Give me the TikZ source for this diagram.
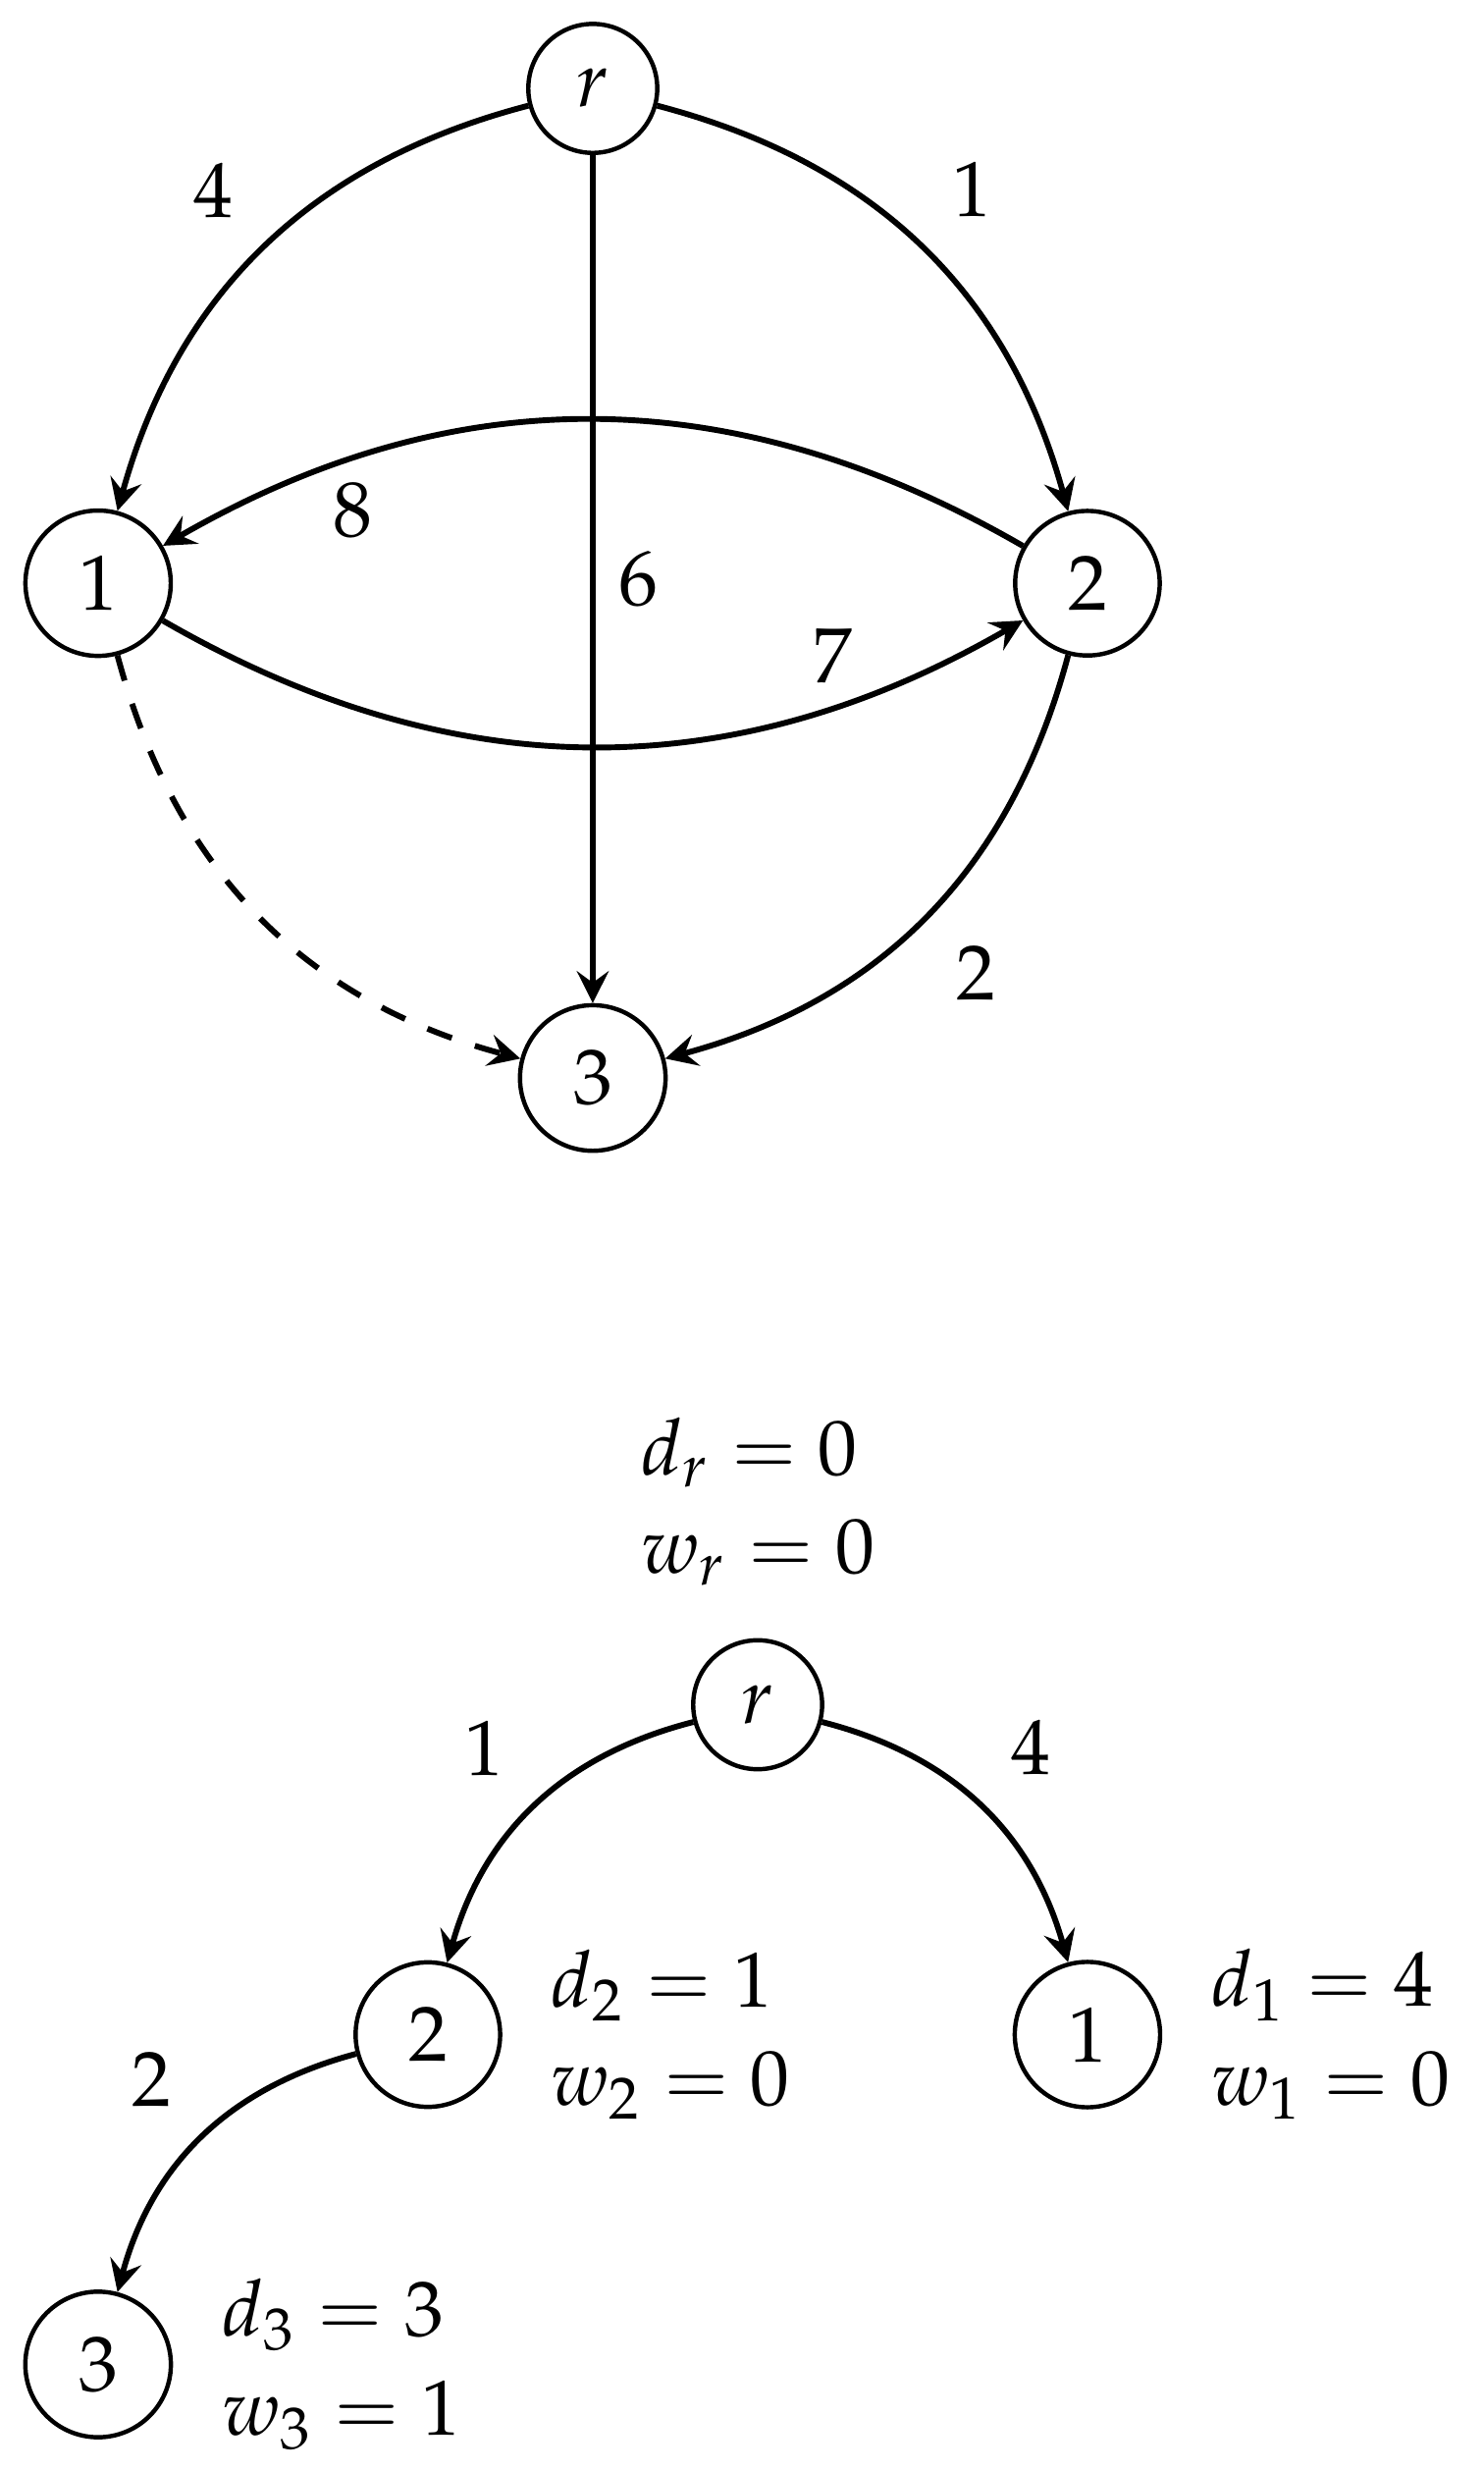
\documentclass[tikz,border=0pt]{standalone}
\usepackage{mathpazo}
\usepackage{tikz}
\usetikzlibrary{arrows.meta,positioning}

\begin{document}
\begin{tikzpicture}[
  font=\fontsize{13.5}{16}\selectfont,
  vtx/.style={circle, draw, line width=0.75pt, inner sep=4.8pt},
  arc/.style={line width=1pt, -{Stealth[length=5.5pt, width=5.5pt, inset=2pt]}},
  wt/.style={inner sep=4.8pt},
  info/.style={align=left, inner sep=2pt}
]
\useasboundingbox (-3.595,-11.44) rectangle (5.399,3.536);

% Graph
\node[vtx] (r) at (0,3) {$r$};
\node[vtx] (a) at (-3,0) {$1$};
\node[vtx] (b) at (3,0) {$2$};
\node[vtx] (c) at (0,-3) {$3$};

\draw[arc] (r) to[bend right=30] node[wt, above left] {$4$} (a);
\draw[arc] (r) to[bend left=30] node[wt, above right] {$1$} (b);
\draw[arc] (r) -- node[wt, right, inner sep=4pt] {$6$} (c);
\draw[arc] (b) to[bend right=30] node[wt, below, pos=0.78, inner sep=3.5pt] {$8$} (a);
\draw[arc] (a) to[bend right=30] node[wt, above, pos=0.78, inner sep=3.5pt] {$7$} (b);
\draw[arc] (b) to[bend left=30] node[wt, below right] {$2$} (c);
\draw[arc, dash pattern=on 4.5pt off 4.2pt] (a) to[bend right=30] (c);

% Shortest path tree
\node[vtx] (tr) at (1,-6.8) {$r$};
\node[vtx] (t2) at (-1,-8.8) {$2$};
\node[vtx] (t1) at (3,-8.8) {$1$};
\node[vtx] (t3) at (-3,-10.8) {$3$};

\draw[arc] (tr) to[bend right=30] node[wt, above left] {$1$} (t2);
\draw[arc] (tr) to[bend left=30] node[wt, above right] {$4$} (t1);
\draw[arc] (t2) to[bend right=30] node[wt, above left] {$2$} (t3);

\node[info, above=2.4mm of tr] (ir) {$d_r = 0$\\[1pt]$w_r = 0$};
\node[info, right=2.2mm of t2] (i2) {$d_2 = 1$\\[1pt]$w_2 = 0$};
\node[info, right=2.2mm of t1] (i1) {$d_1 = 4$\\[1pt]$w_1 = 0$};
\node[info, right=2.2mm of t3] (i3) {$d_3 = 3$\\[1pt]$w_3 = 1$};

\end{tikzpicture}
\end{document}
